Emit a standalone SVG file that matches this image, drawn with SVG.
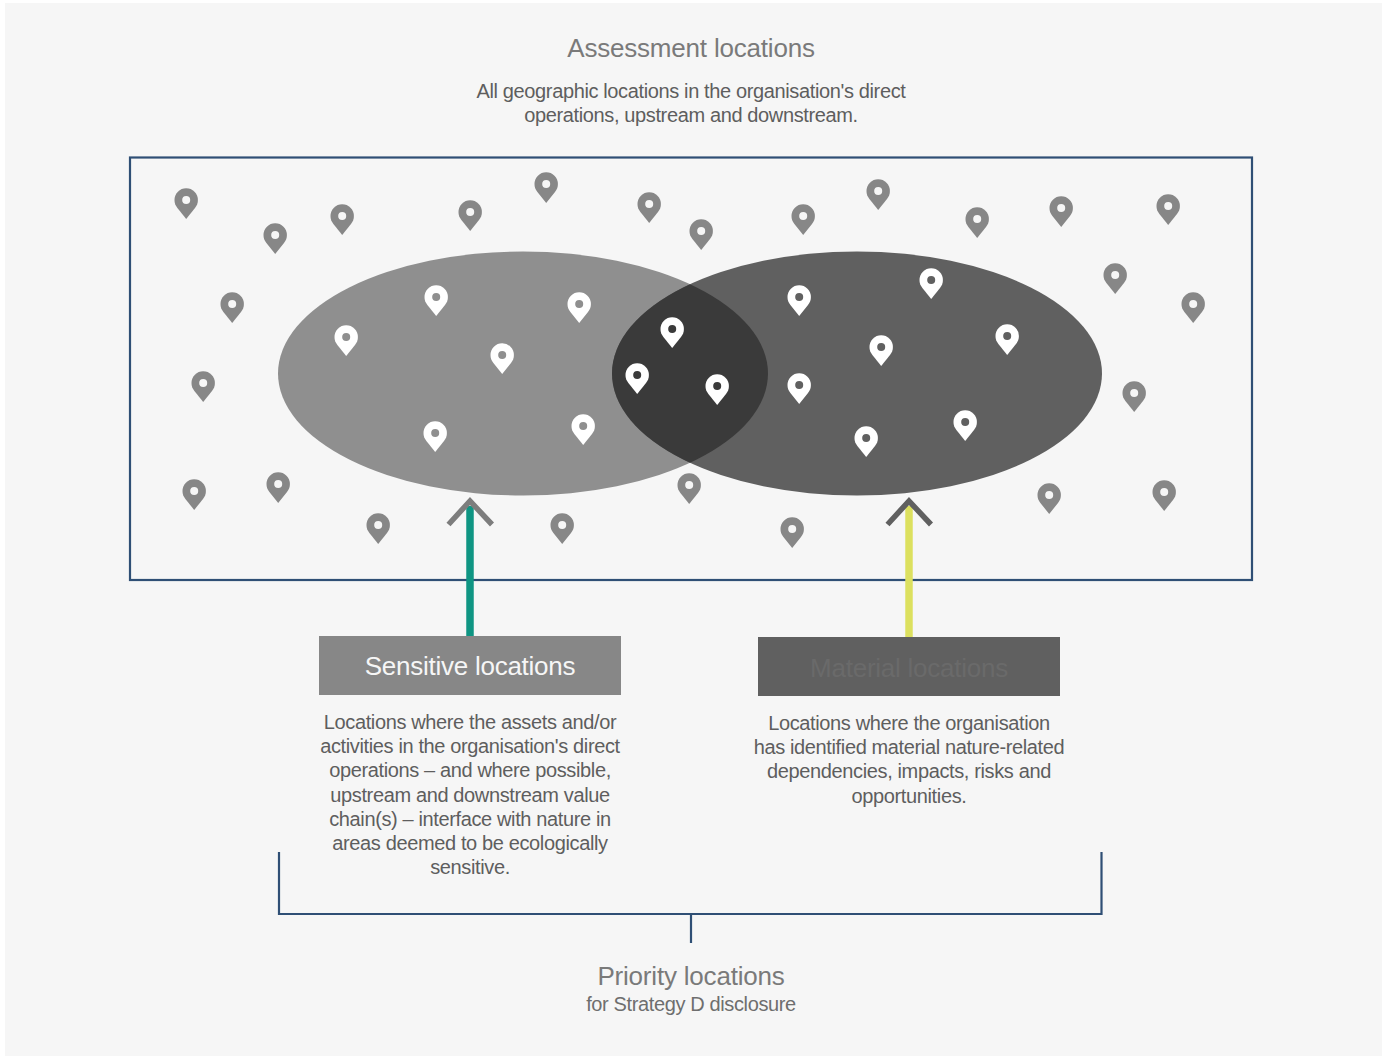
<svg xmlns="http://www.w3.org/2000/svg" width="1387" height="1056" viewBox="0 0 1387 1056">
<style>
text{font-family:"Liberation Sans",Arimo,Arial,sans-serif;text-anchor:middle}
.b{font-size:20px;fill:#5e5e5e;letter-spacing:-.37px}
.h{font-size:26px;fill:#7a7a7a;letter-spacing:-.2px}
.t{font-size:26px;letter-spacing:-.25px}
.line{fill:none;stroke:#2f4f75;stroke-width:2.2}
.g{fill:#878787}.gh{fill:#f6f6f6}
.w{fill:#fff}.wd{fill:#3a3a3a}.wm{fill:#606060}.wl{fill:#8f8f8f}
.pins{transform:translate(.2px,0)}
</style>
<defs>
<path id="pin" d="M0 19L-8.800 8C-10.800 5.500-11.700 3-11.700 0A11.700 11.700 0 0 1 11.700 0C11.700 3 10.800 5.500 8.800 8Z"/>
<clipPath id="lc"><ellipse cx="523" cy="373.500" rx="245" ry="122"/></clipPath>
</defs>
<rect width="1387" height="1056" fill="#fff"/>
<rect x="5" y="3" width="1377" height="1053" fill="#f6f6f6"/>
<g id="assessment-title"><text class="h" x="691" y="57">Assessment locations</text>
<text class="b" x="691" y="98">All geographic locations in the organisation's direct</text>
<text class="b" x="691" y="122">operations, upstream and downstream.</text></g>
<rect id="assessment-box" class="line" x="130" y="157.500" width="1122" height="422.500"/>
<g id="sensitive-ellipse"><ellipse cx="523" cy="373.500" rx="245" ry="122" fill="#8f8f8f"/></g>
<g id="material-ellipse"><ellipse cx="857" cy="373.500" rx="245" ry="122" fill="#606060"/></g>
<g id="overlap"><ellipse cx="857" cy="373.500" rx="245" ry="122" fill="#3a3a3a" clip-path="url(#lc)"/></g>
<g id="pins-outside" class="g pins">
<use href="#pin" x="186" y="200"/><use href="#pin" x="275" y="235"/><use href="#pin" x="342" y="216"/><use href="#pin" x="470" y="212"/><use href="#pin" x="546" y="184"/><use href="#pin" x="649" y="204"/><use href="#pin" x="701" y="231"/><use href="#pin" x="803" y="216"/><use href="#pin" x="878" y="191"/><use href="#pin" x="977" y="219"/><use href="#pin" x="1061" y="208"/><use href="#pin" x="1168" y="206"/><use href="#pin" x="1115" y="275"/><use href="#pin" x="1193" y="304"/><use href="#pin" x="232" y="304"/><use href="#pin" x="203" y="383"/><use href="#pin" x="1134" y="393"/><use href="#pin" x="194" y="491"/><use href="#pin" x="278" y="484"/><use href="#pin" x="378" y="525"/><use href="#pin" x="562" y="525"/><use href="#pin" x="689" y="485"/><use href="#pin" x="792" y="529"/><use href="#pin" x="1049" y="495"/><use href="#pin" x="1164" y="492"/>
</g>
<g id="pin-holes-outside" class="gh pins">
<circle cx="186" cy="200" r="4"/><circle cx="275" cy="235" r="4"/><circle cx="342" cy="216" r="4"/><circle cx="470" cy="212" r="4"/><circle cx="546" cy="184" r="4"/><circle cx="649" cy="204" r="4"/><circle cx="701" cy="231" r="4"/><circle cx="803" cy="216" r="4"/><circle cx="878" cy="191" r="4"/><circle cx="977" cy="219" r="4"/><circle cx="1061" cy="208" r="4"/><circle cx="1168" cy="206" r="4"/><circle cx="1115" cy="275" r="4"/><circle cx="1193" cy="304" r="4"/><circle cx="232" cy="304" r="4"/><circle cx="203" cy="383" r="4"/><circle cx="1134" cy="393" r="4"/><circle cx="194" cy="491" r="4"/><circle cx="278" cy="484" r="4"/><circle cx="378" cy="525" r="4"/><circle cx="562" cy="525" r="4"/><circle cx="689" cy="485" r="4"/><circle cx="792" cy="529" r="4"/><circle cx="1049" cy="495" r="4"/><circle cx="1164" cy="492" r="4"/>
</g>
<g id="pins-inside" class="w pins">
<use href="#pin" x="436" y="297"/><use href="#pin" x="579" y="304"/><use href="#pin" x="346" y="337"/><use href="#pin" x="502" y="355"/><use href="#pin" x="435" y="433"/><use href="#pin" x="583" y="426"/><use href="#pin" x="672" y="329"/><use href="#pin" x="637" y="375"/><use href="#pin" x="717" y="386"/><use href="#pin" x="799" y="297"/><use href="#pin" x="931" y="280"/><use href="#pin" x="881" y="347"/><use href="#pin" x="1007" y="336"/><use href="#pin" x="799" y="385"/><use href="#pin" x="866" y="438"/><use href="#pin" x="965" y="422"/>
</g>
<g id="pin-holes-sensitive" class="wl pins"><circle cx="436" cy="297" r="4"/><circle cx="579" cy="304" r="4"/><circle cx="346" cy="337" r="4"/><circle cx="502" cy="355" r="4"/><circle cx="435" cy="433" r="4"/><circle cx="583" cy="426" r="4"/></g>
<g id="pin-holes-overlap" class="wd pins"><circle cx="672" cy="329" r="4"/><circle cx="637" cy="375" r="4"/><circle cx="717" cy="386" r="4"/></g>
<g id="pin-holes-material" class="wm pins"><circle cx="799" cy="297" r="4"/><circle cx="931" cy="280" r="4"/><circle cx="881" cy="347" r="4"/><circle cx="1007" cy="336" r="4"/><circle cx="799" cy="385" r="4"/><circle cx="866" cy="438" r="4"/><circle cx="965" cy="422" r="4"/></g>
<g id="connectors">
<path d="M470 636V506" fill="none" stroke="#0f9583" stroke-width="7.500"/>
<path d="M448.500 524.500L470 501L492 524.500" fill="none" stroke="#7d7d7d" stroke-width="5.500"/>
<path d="M909 637V506" fill="none" stroke="#dce05f" stroke-width="7.500"/>
<path d="M887.500 524.500L909 501L931 524.500" fill="none" stroke="#606060" stroke-width="5.500"/>
<path class="line" d="M279 852V914H1101.500V852M691 914V943"/>
</g>
<g id="sensitive"><rect x="319" y="636" width="302" height="59" fill="#878787"/>
<text class="t" x="470" y="675" fill="#f6f6f6">Sensitive locations</text>
<g class="b"><text x="470" y="729">Locations where the assets and/or</text><text x="470" y="753">activities in the organisation's direct</text><text x="470" y="777">operations – and where possible,</text><text x="470" y="802">upstream and downstream value</text><text x="470" y="826">chain(s) – interface with nature in</text><text x="470" y="850">areas deemed to be ecologically</text><text x="470" y="874">sensitive.</text></g></g>
<g id="material"><rect x="758" y="637" width="302" height="59" fill="#606060"/>
<text class="t" x="909" y="677" fill="#6a6a6a">Material locations</text>
<g class="b"><text x="909" y="730">Locations where the organisation</text><text x="909" y="754">has identified material nature-related</text><text x="909" y="778">dependencies, impacts, risks and</text><text x="909" y="803">opportunities.</text></g></g>
<g id="priority"><text class="h" x="691" y="985">Priority locations</text><text class="b" x="691" y="1011" style="fill:#6e6e6e">for Strategy D disclosure</text></g>
</svg>
